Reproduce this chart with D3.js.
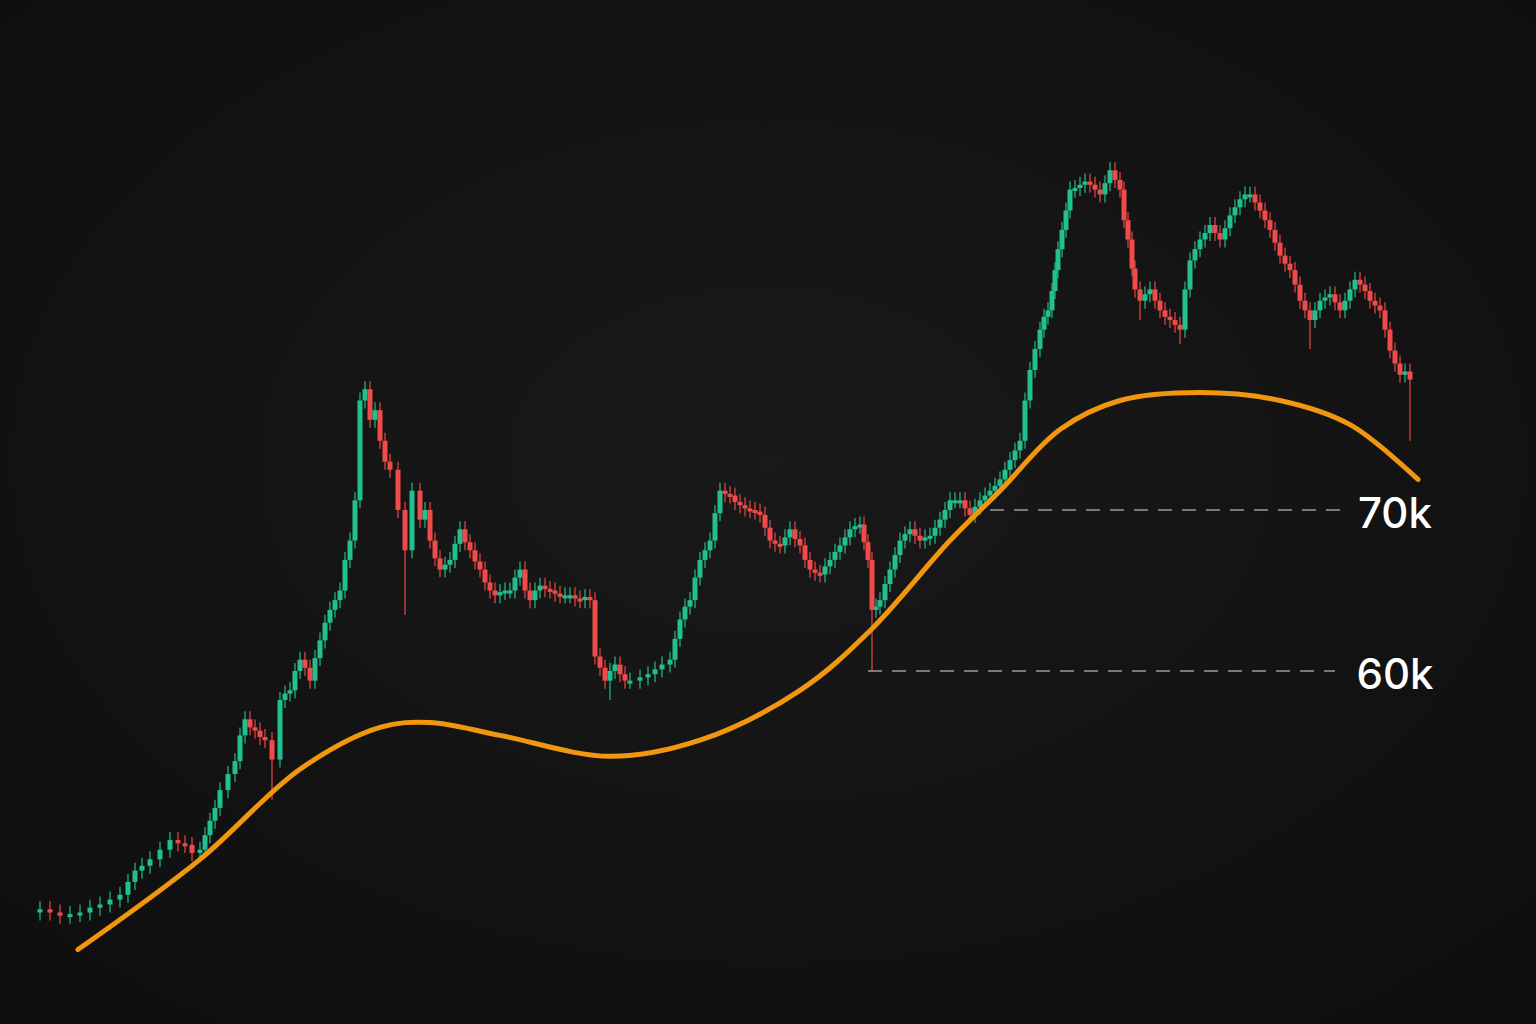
<!DOCTYPE html>
<html><head><meta charset="utf-8">
<script src="https://cdn.jsdelivr.net/npm/d3@7"></script>
<style>html,body{margin:0;background:#121212;overflow:hidden}</style>
</head><body><svg id="c" width="1536" height="1024"></svg>
<script>
// [time index, close price in k]
const closes = [[40,45.2],[50,45.0],[60,44.8],[70,44.9],[80,45.0],[90,45.3],[100,45.5],[110,45.8],[120,46.1],[128,46.9],[135,47.6],[142,47.9],[150,48.3],[160,48.9],[170,49.5],[178,49.3],[185,49.2],[192,48.7],[200,48.9],[205,49.8],[210,50.7],[215,51.5],[220,52.6],[228,53.6],[235,54.4],[240,56.0],[245,57.0],[250,56.5],[255,56.3],[260,55.9],[265,55.7],[272,54.5],[280,58.2],[285,58.6],[290,58.8],[295,60.0],[300,60.7],[305,60.2],[310,59.4],[315,60.8],[320,61.9],[325,63.0],[330,63.8],[335,64.4],[340,65.0],[345,66.9],[350,68.1],[355,70.6],[360,76.8],[365,77.5],[370,75.6],[375,76.2],[380,74.3],[385,73.0],[390,72.5],[398,70.0],[405,67.5],[412,71.2],[420,69.4],[425,70.0],[430,68.1],[435,67.0],[440,66.3],[445,66.6],[450,66.9],[455,67.9],[460,68.8],[465,68.0],[470,67.5],[475,66.8],[480,66.3],[485,65.5],[490,65.0],[495,64.7],[500,64.9],[505,65.0],[510,65.0],[515,65.8],[520,66.3],[525,65.0],[530,64.4],[535,65.0],[540,65.3],[545,65.1],[550,65.0],[555,64.8],[560,64.7],[565,64.7],[570,64.7],[575,64.5],[580,64.4],[585,64.6],[590,64.4],[595,60.9],[600,60.2],[605,59.4],[610,60.0],[615,60.4],[620,59.8],[625,59.4],[630,59.4],[640,59.6],[648,59.8],[655,60.1],[662,60.4],[670,60.7],[675,62.0],[680,63.2],[685,64.0],[690,64.4],[695,65.8],[700,66.9],[705,67.5],[710,68.1],[715,69.8],[720,71.2],[725,71.0],[730,70.9],[735,70.5],[740,70.3],[745,70.1],[750,70.0],[755,69.9],[760,69.7],[765,68.9],[770,68.1],[775,67.9],[780,67.8],[785,68.3],[790,68.8],[795,68.2],[800,67.8],[805,66.9],[810,66.3],[815,66.1],[820,66.0],[825,66.5],[830,66.9],[835,67.4],[840,67.8],[845,68.3],[850,68.8],[855,69.0],[860,69.1],[864,68.0],[868,66.9],[872,63.8],[876,64.0],[880,64.4],[885,65.4],[890,66.3],[895,67.2],[900,68.1],[905,68.5],[910,68.8],[915,68.4],[920,68.1],[925,68.3],[930,68.4],[935,68.9],[940,69.4],[945,70.0],[950,70.6],[955,70.6],[960,70.6],[965,70.1],[970,69.7],[975,70.2],[980,70.6],[985,70.9],[990,71.2],[995,71.5],[1000,71.9],[1005,72.5],[1010,73.1],[1015,73.7],[1020,74.3],[1025,76.8],[1030,78.7],[1035,80.0],[1040,81.2],[1044,82.0],[1048,82.4],[1052,83.6],[1055,84.9],[1058,86.2],[1062,87.4],[1066,88.6],[1070,89.9],[1075,90.0],[1080,90.2],[1085,90.4],[1090,90.2],[1095,89.9],[1100,89.6],[1105,90.3],[1110,91.1],[1115,90.5],[1120,89.9],[1124,88.0],[1128,86.8],[1132,85.0],[1135,83.7],[1140,83.0],[1145,83.4],[1150,83.7],[1155,83.0],[1160,82.4],[1165,82.0],[1170,81.8],[1175,81.5],[1180,81.2],[1185,83.7],[1190,85.5],[1195,86.2],[1200,86.8],[1205,87.2],[1210,87.7],[1215,87.2],[1220,86.8],[1225,87.5],[1230,88.3],[1235,88.8],[1240,89.3],[1245,89.6],[1250,89.6],[1255,89.1],[1260,88.6],[1265,88.0],[1270,87.4],[1275,86.6],[1280,85.8],[1285,85.3],[1290,84.9],[1295,84.0],[1300,83.0],[1305,82.4],[1310,81.8],[1315,82.4],[1320,83.0],[1325,83.2],[1330,83.4],[1335,82.9],[1340,82.4],[1345,83.0],[1350,83.7],[1355,84.3],[1360,84.0],[1365,83.6],[1370,83.0],[1375,82.7],[1380,82.4],[1385,81.2],[1390,79.9],[1395,79.1],[1400,78.4],[1405,78.6],[1410,78.1]];
const lowSpikes = [[272,52.0],[405,63.5],[610,58.2],[872,60.0],[1180,80.3],[1410,74.3],[1310,80.0],[1140,81.8]];
const trend = [[78,42.7],[200,48.3],[300,53.9],[380,56.5],[430,56.8],[500,56.0],[610,54.7],[700,55.7],[800,58.8],[870,62.5],[950,68.1],[1000,71.2],[1060,75.0],[1120,76.8],[1200,77.3],[1280,76.8],[1350,75.3],[1418,71.9]];
const levels = [{v:70,from:990,to:1340,label:"70k"},{v:60,from:868,to:1335,label:"60k"}];

const svg = d3.select("#c");
const defs = svg.append("defs");
const g = defs.append("radialGradient").attr("id","bg").attr("cx","50%").attr("cy","45%").attr("r","75%");
g.append("stop").attr("offset","0%").attr("stop-color","#191919");
g.append("stop").attr("offset","100%").attr("stop-color","#0e0e0e");
svg.append("rect").attr("width",1536).attr("height",1024).attr("fill","url(#bg)");

const x = d3.scaleLinear().domain([40,1412]).range([40,1412]);
const y = d3.scaleLinear().domain([60,70]).range([671,510]);

const candles = closes.map((p,i)=>{
  const c = p[1], o = i>0 ? closes[i-1][1] : c-0.2;
  const sp = lowSpikes.find(s=>s[0]===p[0]);
  return {t:p[0],o,c,hi:Math.max(o,c),lo:Math.min(o,c),spike:sp?sp[1]:null};
});
const green="#22c08f", red="#f04a4a";
const cg = svg.append("g");
cg.selectAll("line").data(candles).join("line")
  .attr("x1",d=>x(d.t)).attr("x2",d=>x(d.t))
  .attr("y1",d=>y(d.hi)-8).attr("y2",d=>d.spike!==null?y(d.spike):y(d.lo)+8)
  .attr("stroke",d=>d.c>=d.o?green:red).attr("stroke-width",1.3).attr("opacity",0.9);
cg.selectAll("rect").data(candles).join("rect")
  .attr("x",d=>x(d.t)-2.5).attr("width",5)
  .attr("y",d=>y(d.hi)).attr("height",d=>Math.max(3,y(d.lo)-y(d.hi)))
  .attr("fill",d=>d.c>=d.o?green:red);

levels.forEach(l=>{
  svg.append("line").attr("x1",x(l.from)).attr("x2",x(l.to)).attr("y1",y(l.v)).attr("y2",y(l.v))
    .attr("stroke","#9a9a9a").attr("stroke-width",1.5).attr("stroke-dasharray","14,10");
  svg.append("text").attr("x",1395).attr("y",y(l.v)+3).attr("dy","0.35em").attr("text-anchor","middle")
    .attr("fill","#fff").attr("font-family","Inter, sans-serif").attr("font-weight",500).attr("font-size",42).text(l.label);
});

svg.append("path").datum(trend)
  .attr("d",d3.line().x(d=>x(d[0])).y(d=>y(d[1])).curve(d3.curveCatmullRom))
  .attr("fill","none").attr("stroke","#f0960f").attr("stroke-width",5).attr("stroke-linecap","round");
</script></body></html>
